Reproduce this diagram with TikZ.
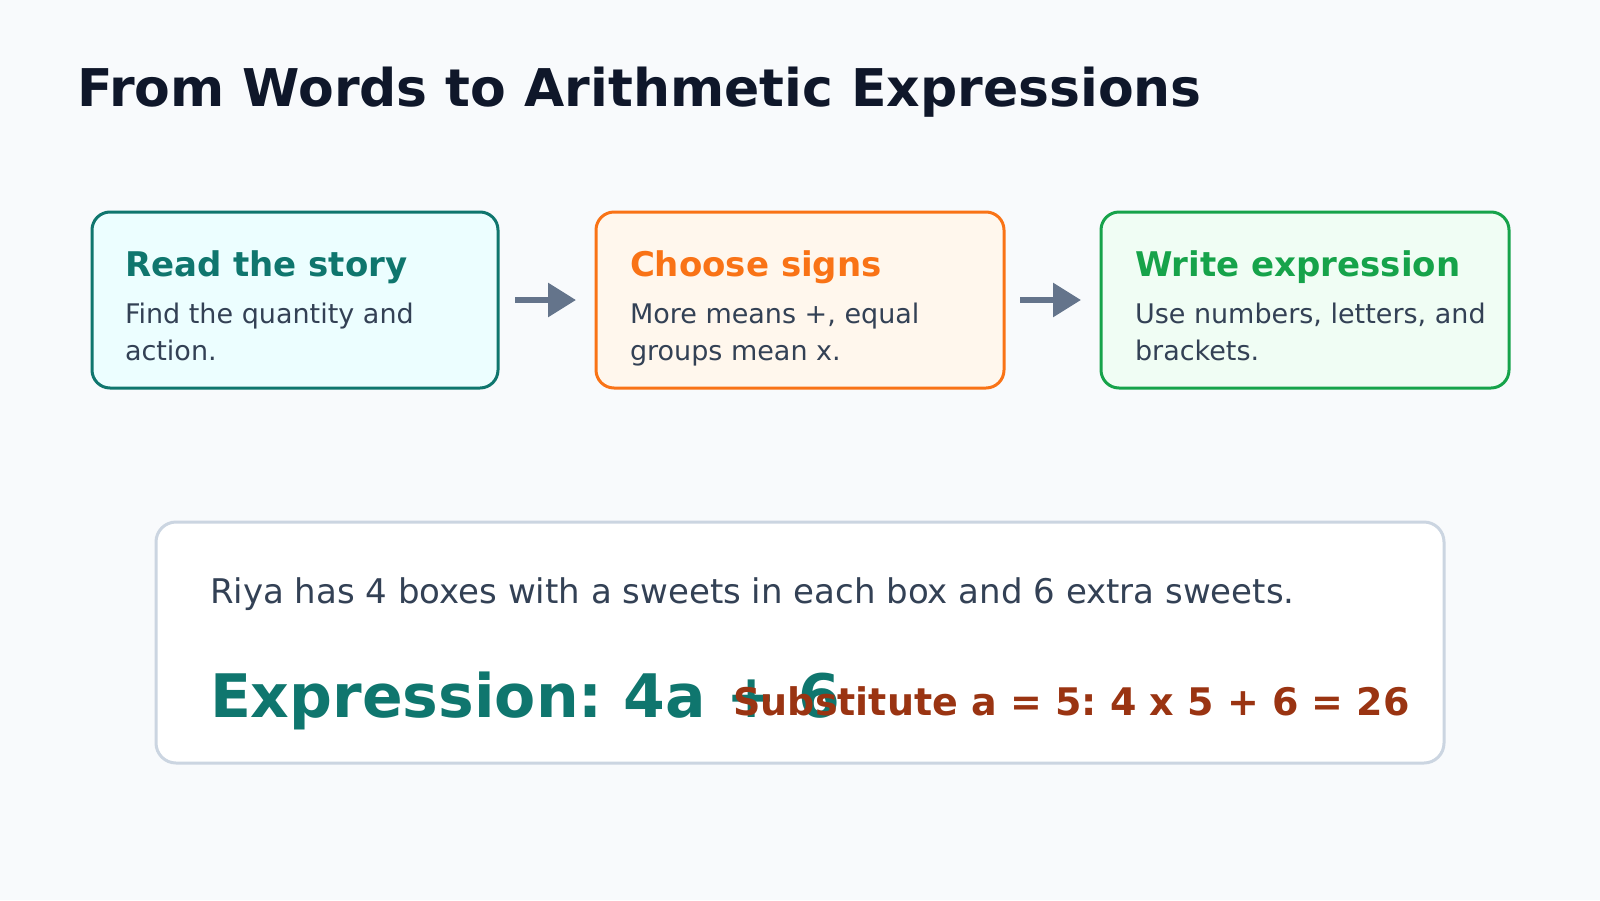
\documentclass[tikz,border=0pt]{standalone}
\usepackage{fontspec}
\setmainfont{DejaVu Sans}
\usetikzlibrary{arrows.meta}
\frenchspacing
\definecolor{bgc}{HTML}{F8FAFC}
\definecolor{titlec}{HTML}{0F172A}
\definecolor{tealc}{HTML}{0F766E}
\definecolor{tealf}{HTML}{ECFEFF}
\definecolor{orangec}{HTML}{F97316}
\definecolor{orangef}{HTML}{FFF7ED}
\definecolor{greenc}{HTML}{16A34A}
\definecolor{greenf}{HTML}{F0FDF4}
\definecolor{bodyc}{HTML}{334155}
\definecolor{arrowc}{HTML}{64748B}
\definecolor{panelc}{HTML}{CBD5E1}
\definecolor{rustc}{HTML}{9A3412}
\tikzset{
  stepbox/.style={draw, line width=3pt, rounded corners=18pt},
  txt/.style={anchor=base west, inner sep=0pt, outer sep=0pt},
  head/.style={txt, font=\fontsize{34}{40}\selectfont\bfseries},
  bodytxt/.style={txt, font=\fontsize{27}{37}\selectfont\frenchspacing, text=bodyc},
  flow/.style={draw=arrowc, line width=6pt, -{Triangle[length=28pt,width=33pt]}, shorten >=0pt},
}
\begin{document}
\begin{tikzpicture}[x=1pt,y=-1pt]
\fill[bgc] (0,0) rectangle (1600,900);
\useasboundingbox (0,0) rectangle (1600,900);
\node[txt, font=\fontsize{52}{60}\selectfont\bfseries, text=titlec] (title) at (77,106) {From Words to Arithmetic Expressions};
% step boxes
\draw[stepbox, draw=tealc, fill=tealf] (92,212) rectangle (498,388);
\draw[stepbox, draw=orangec, fill=orangef] (596,212) rectangle (1004,388);
\draw[stepbox, draw=greenc, fill=greenf] (1101,212) rectangle (1509,388);
\coordinate (a1s) at (515,300);
\coordinate (a1e) at (576,300);
\coordinate (a2s) at (1020,300);
\coordinate (a2e) at (1081,300);
\draw[flow] (a1s) -- (a1e);
\draw[flow] (a2s) -- (a2e);
\node[head, text=tealc] (h1) at (125,276) {Read the story};
\node[bodytxt] (t1a) at (125,323) {Find the quantity and};
\node[bodytxt] (t1b) at (125,360) {action.};
\node[head, text=orangec] (h2) at (630,276) {Choose signs};
\node[bodytxt] (t2a) at (630,323) {More means +, equal};
\node[bodytxt] (t2b) at (630,360) {groups mean x.};
\node[head, text=greenc] (h3) at (1135,276) {Write expression};
\node[bodytxt] (t3a) at (1135,323) {Use numbers, letters, and};
\node[bodytxt] (t3b) at (1135,360) {brackets.};
% panel
\draw[draw=panelc, fill=white, line width=3pt, rounded corners=20pt] (156,522) rectangle (1444,763);
\node[txt, font=\fontsize{34}{40}\selectfont, text=bodyc] (story) at (210,603) {Riya has 4 boxes with a sweets in each box and 6 extra sweets.};
\node[txt, font=\fontsize{60}{70}\selectfont\bfseries, text=tealc] (expr) at (210,717) {Expression: 4a + 6};
\node[anchor=base east, inner sep=0pt, font=\fontsize{38}{44}\selectfont\bfseries, text=rustc] (subs) at (1410,715) {Substitute a = 5: 4 x 5 + 6 = 26};
\end{tikzpicture}
\end{document}
